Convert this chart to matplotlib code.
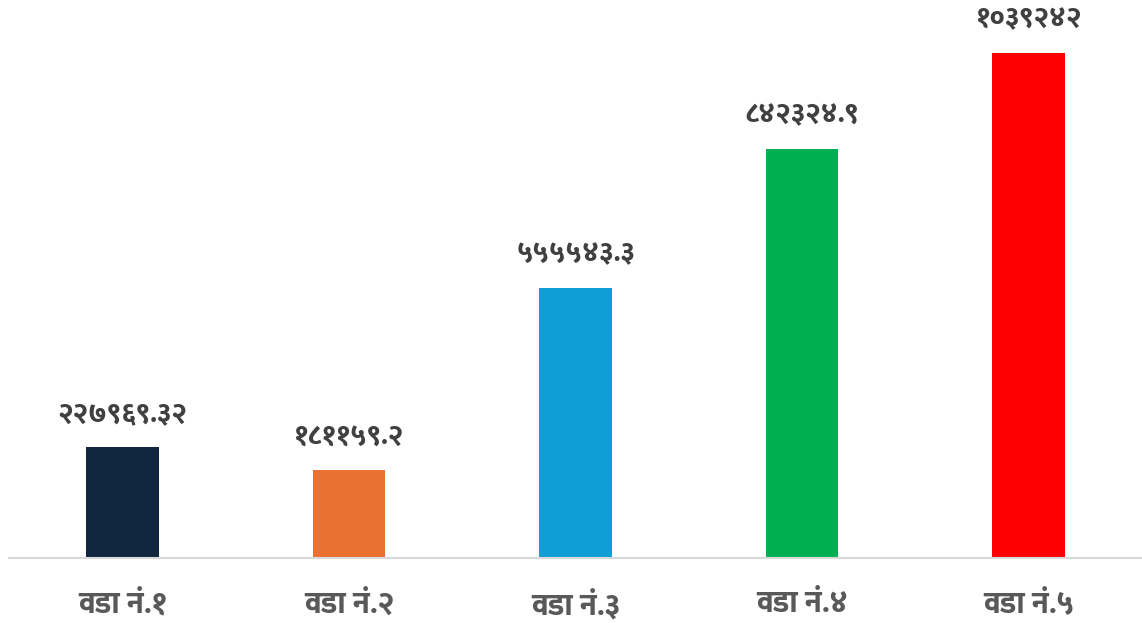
import matplotlib
matplotlib.use("Agg")
import matplotlib.pyplot as plt

categories = ["वडा नं.१", "वडा नं.२", "वडा नं.३", "वडा नं.४", "वडा नं.५"]
values = [227969.32, 181159.2, 555543.3, 842324.9, 1039242]
value_labels = ["२२७९६९.३२", "१८११५९.२", "५५५५४३.३", "८४२३२४.९", "१०३९२४२"]
colors = ["#10273F", "#E97132", "#0F9ED5", "#00B050", "#FF0000"]

plt.rcParams['font.family'] = ["Ek Mukta", "Noto Sans", "DejaVu Sans"]

fig = plt.figure(figsize=(11.42, 6.23), dpi=100)
ax = fig.add_axes([9/1142, 65/623, 1 - 9/1142, 1 - 65/623])
x = list(range(len(categories)))
ax.bar(x, values, width=0.32, color=colors, zorder=2)
ax.set_xlim(-0.5, len(categories) - 0.5)
ax.set_ylim(0, 1039242 * 558 / 505)
for xi, v, lab in zip(x, values, value_labels):
    ax.annotate(lab, (xi, v), xytext=(0, 14), textcoords="offset points",
                ha="center", va="bottom", fontsize=20, fontweight=800, color="#404040")
ax.set_xticks(x)
ax.set_xticklabels(categories, fontsize=22, fontweight=800, color="#595959")
ax.tick_params(axis="x", length=0, pad=23)
ax.set_yticks([])
for s in ["top", "left", "right"]:
    ax.spines[s].set_visible(False)
ax.spines["bottom"].set_color("#D9D9D9")
ax.spines["bottom"].set_linewidth(1.5)
fig.savefig("out.png", dpi=100)
